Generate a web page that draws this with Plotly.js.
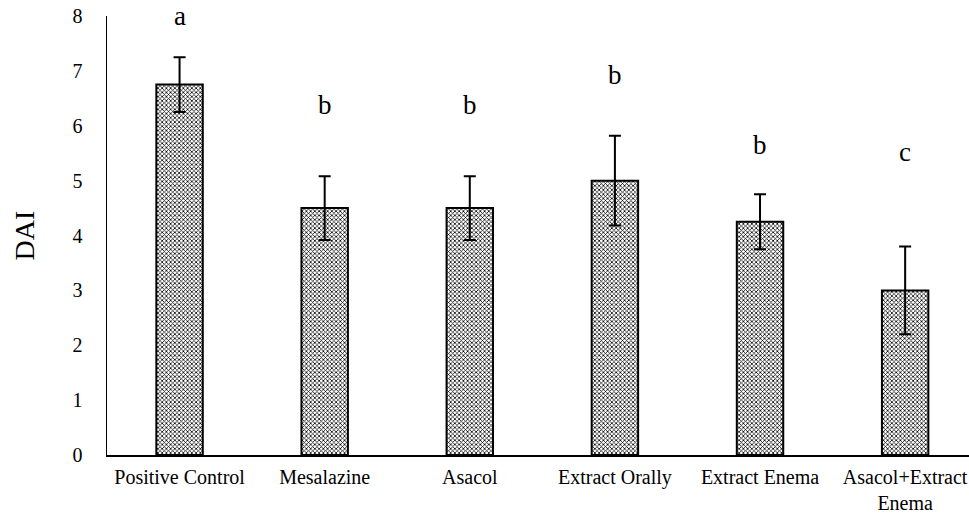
<!DOCTYPE html>
<html>
<head>
<meta charset="utf-8">
<script src="https://cdn.plot.ly/plotly-3.0.1.min.js"></script>
<style>html,body{margin:0;padding:0;background:#fff;}#chart{width:969px;height:516px;}</style>
</head>
<body>
<div id="chart"></div>
<script>
const categories = ["Positive Control", "Mesalazine", "Asacol", "Extract Orally", "Extract Enema", "Asacol+Extract<br>Enema"];
const dai = [6.75, 4.5, 4.5, 5.0, 4.25, 3.0];
const errors = [0.5, 0.58, 0.58, 0.82, 0.5, 0.8];
const letters = ["a", "b", "b", "b", "b", "c"];
const letterY = [8.0, 6.37, 6.37, 6.92, 5.65, 5.52];

const font = "Liberation Serif, Times New Roman, serif";

const bars = {
  type: "bar",
  x: categories,
  y: dai,
  width: 0.32,
  marker: {
    color: "white",
    line: {color: "black", width: 2},
    pattern: {shape: "x", fgcolor: "black", bgcolor: "white", size: 3, solidity: 0.45}
  },
  error_y: {type: "data", array: errors, visible: true, color: "black", thickness: 2, width: 6},
  hoverinfo: "none"
};

const annotations = categories.map((c, i) => ({
  x: c, y: letterY[i], xref: "x", yref: "y", text: letters[i], showarrow: false,
  font: {family: font, size: 27, color: "black"}
}));

const layout = {
  width: 969, height: 516,
  margin: {l: 107, r: 0, t: 16, b: 61},
  paper_bgcolor: "white", plot_bgcolor: "white",
  showlegend: false,
  font: {family: font, color: "black"},
  xaxis: {
    range: [-0.5, 5.44],
    showline: true, linecolor: "black", linewidth: 2, ticks: "", showgrid: false,
    tickfont: {family: font, size: 20, color: "black"}, ticklabelstandoff: 3
  },
  yaxis: {
    range: [0, 8], dtick: 1, showline: true, linecolor: "black", linewidth: 1.5,
    ticks: "", showgrid: false, zeroline: false,
    tickfont: {family: font, size: 20, color: "black"}, ticklabelstandoff: 19,
    title: {text: "DAI", font: {family: font, size: 28, color: "black"}, standoff: 29}
  },
  annotations: annotations
};

Plotly.newPlot("chart", [bars], layout, {staticPlot: true});
</script>
</body>
</html>
